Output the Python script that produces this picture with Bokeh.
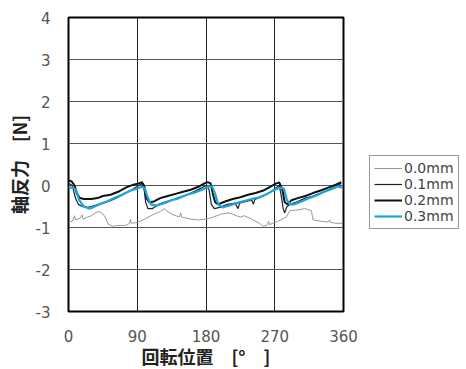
from bokeh.plotting import figure
from bokeh.models import Legend, LegendItem, FixedTicker, Range1d
from bokeh.embed import file_html
from bokeh.resources import INLINE

x_ticks = [0, 90, 180, 270, 360]
y_ticks = [-3, -2, -1, 0, 1, 2, 3, 4]
y_tick_labels = ["-3", "-2", "-1", "0", "1", "2", "3", "4"]

deg_00 = [0,5,8,9,15,18,19,25,30,35,40,45,48,52,58,65,75,80,81,82,90,100,110,120,126,128,135,145,147,148,160,170,180,190,200,210,220,225,230,240,250,255,260,262,263,270,278,285,290,300,310,318,320,330,340,342,343,350,358]
val_00 = [-0.88,-0.85,-0.72,-0.82,-0.78,-0.7,-0.8,-0.75,-0.72,-0.65,-0.62,-0.68,-0.75,-0.92,-0.97,-0.95,-0.95,-0.9,-0.8,-0.9,-0.88,-0.8,-0.7,-0.62,-0.55,-0.6,-0.68,-0.75,-0.65,-0.75,-0.8,-0.82,-0.8,-0.75,-0.68,-0.65,-0.72,-0.75,-0.72,-0.8,-0.9,-0.97,-0.95,-0.85,-0.93,-0.88,-0.82,-0.75,-0.6,-0.58,-0.55,-0.6,-0.82,-0.85,-0.87,-0.82,-0.88,-0.9,-0.9]

deg_01 = [0,5,9,13,18,25,30,35,45,55,65,75,85,92,96,99,101,104,110,118,125,135,145,155,165,175,180,184,187,191,198,208,218,222,224,232,240,242,244,255,265,272,276,279,281,283,286,290,300,310,320,330,340,350,357]
val_01 = [0.05,0.0,-0.3,-0.45,-0.5,-0.52,-0.5,-0.47,-0.42,-0.36,-0.28,-0.18,-0.08,0.0,0.05,-0.1,-0.4,-0.55,-0.55,-0.45,-0.4,-0.35,-0.28,-0.22,-0.14,-0.05,0.0,-0.1,-0.45,-0.55,-0.52,-0.45,-0.42,-0.55,-0.42,-0.38,-0.35,-0.45,-0.33,-0.25,-0.15,-0.05,0.0,-0.3,-0.55,-0.65,-0.5,-0.45,-0.38,-0.3,-0.25,-0.18,-0.1,-0.02,0.05]

deg_02 = [0,4,8,11,15,20,30,38,45,55,65,75,85,92,96,99,102,106,112,120,130,140,150,160,170,178,182,186,189,192,196,205,215,225,235,245,255,265,272,276,280,283,287,292,300,310,320,330,340,350,357]
val_02 = [0.12,0.1,0.0,-0.2,-0.3,-0.32,-0.32,-0.3,-0.25,-0.22,-0.15,-0.05,0.02,0.05,0.08,0.0,-0.3,-0.4,-0.38,-0.3,-0.25,-0.2,-0.15,-0.1,-0.03,0.05,0.08,0.05,-0.2,-0.4,-0.45,-0.38,-0.32,-0.28,-0.22,-0.18,-0.12,-0.02,0.05,0.07,-0.1,-0.4,-0.45,-0.35,-0.3,-0.25,-0.18,-0.12,-0.05,0.02,0.08]

deg_03 = [0,5,10,14,20,27,32,40,50,60,70,80,90,97,100,104,108,115,125,135,145,155,165,175,183,188,192,196,201,210,220,230,240,250,260,270,278,282,286,290,295,305,315,325,335,345,353,358]
val_03 = [-0.05,-0.05,-0.1,-0.35,-0.5,-0.55,-0.52,-0.45,-0.38,-0.3,-0.22,-0.13,-0.07,-0.03,-0.08,-0.3,-0.45,-0.48,-0.42,-0.35,-0.3,-0.22,-0.17,-0.1,-0.03,-0.02,-0.2,-0.45,-0.52,-0.48,-0.42,-0.37,-0.32,-0.28,-0.2,-0.1,-0.05,-0.08,-0.35,-0.45,-0.45,-0.38,-0.3,-0.23,-0.15,-0.08,-0.02,-0.05]

labels = ["0.0mm", "0.1mm", "0.2mm", "0.3mm"]

p = figure(frame_width=275, frame_height=294, output_backend="svg", toolbar_location=None,
           x_range=Range1d(0, 360), y_range=Range1d(-3, 4),
           min_border_left=68, min_border_right=123, min_border_top=17, min_border_bottom=58)
p.background_fill_color = "white"
p.border_fill_color = "white"
p.outline_line_color = "black"
p.outline_line_width = 2

r0 = p.line(deg_00, val_00, line_color="#999999", line_width=1)
r1 = p.line(deg_01, val_01, line_color="#222222", line_width=1.2)
r2 = p.line(deg_02, val_02, line_color="#111111", line_width=2)
r3 = p.line(deg_03, val_03, line_color="#1aa5e0", line_width=2.2)

for ax in (p.xaxis[0], p.yaxis[0]):
    ax.axis_line_color = None
    ax.major_tick_line_color = None
    ax.minor_tick_line_color = None
    ax.major_label_text_font = "DejaVu Sans"
    ax.major_label_text_font_size = "15px"
    ax.major_label_text_color = "#555555"
    ax.major_label_text_font_style = "normal"
    ax.axis_label_text_font = "Noto Sans CJK JP"
    ax.axis_label_text_font_size = "18px"
    ax.axis_label_text_font_style = "bold"
    ax.axis_label_text_color = "#222222"

p.xaxis.ticker = FixedTicker(ticks=x_ticks)
p.yaxis.ticker = FixedTicker(ticks=y_ticks)
p.yaxis.major_label_overrides = {t: s for t, s in zip(y_ticks, y_tick_labels)}
p.xaxis.major_label_standoff = 12
p.yaxis.major_label_standoff = 12
p.xaxis.axis_label = "回転位置　[°　]"
p.yaxis.axis_label = "軸反力　[N]"
p.xaxis.axis_label_standoff = -2
p.yaxis.axis_label_standoff = 1

p.xgrid.ticker = FixedTicker(ticks=x_ticks)
p.ygrid.ticker = FixedTicker(ticks=y_ticks)
p.xgrid.grid_line_color = "#222222"
p.ygrid.grid_line_color = "#555555"
p.xgrid.grid_line_width = 1
p.ygrid.grid_line_width = 1

legend = Legend(items=[LegendItem(label=labels[0], renderers=[r0]),
                       LegendItem(label=labels[1], renderers=[r1]),
                       LegendItem(label=labels[2], renderers=[r2]),
                       LegendItem(label=labels[3], renderers=[r3])],
                location=(26, 82))
legend.border_line_color = "#333333"
legend.border_line_width = 1
legend.background_fill_alpha = 1
legend.label_text_font = "DejaVu Sans"
legend.label_text_font_size = "14px"
legend.label_text_color = "#444444"
legend.glyph_width = 28
legend.glyph_height = 16
legend.label_height = 16
legend.spacing = 0
legend.padding = 4
legend.margin = 0
legend.label_standoff = 2
p.add_layout(legend, "right")

open("out.html", "w").write(file_html(p, INLINE))
